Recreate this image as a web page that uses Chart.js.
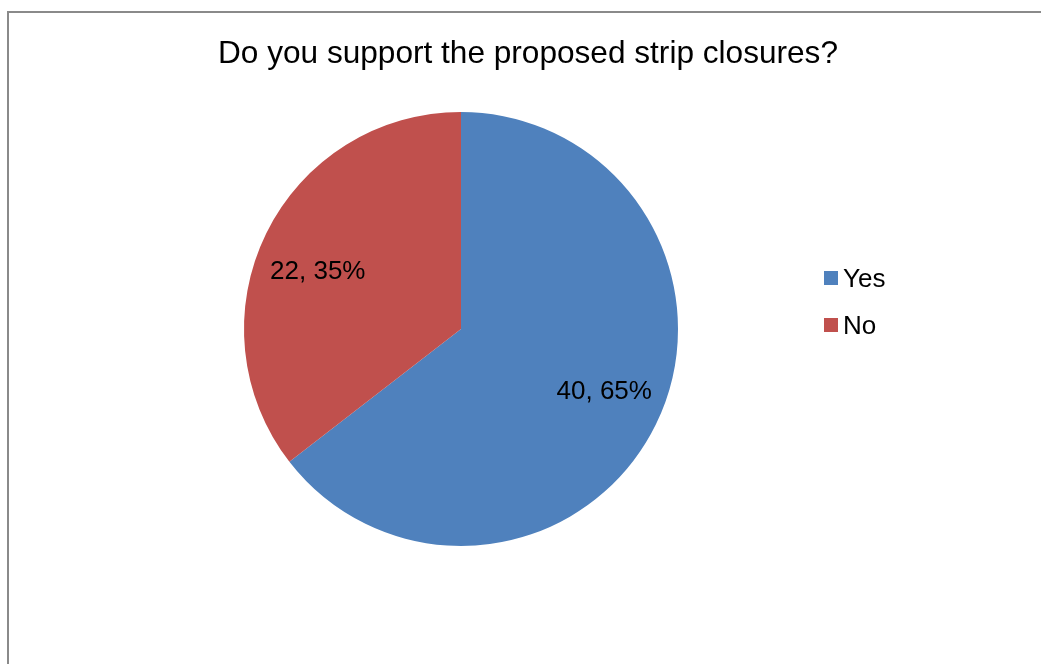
<!DOCTYPE html>
<html>
<head>
<meta charset="utf-8">
<script src="https://cdn.jsdelivr.net/npm/chart.js@4.4.1/dist/chart.umd.min.js"></script>
<style>
  html, body { margin: 0; padding: 0; background: #fff; }
  #wrap { position: relative; width: 1041px; height: 664px; }
</style>
</head>
<body>
<div id="wrap"><canvas id="pieChart" width="1041" height="664"></canvas></div>
<script>
const chartTitle = 'Do you support the proposed strip closures?';
const answers = ['Yes', 'No'];
const counts = [40, 22];
const sliceColors = ['#4F81BD', '#C0504D'];

const FONT = '"Liberation Sans", Arial, sans-serif';

// frame, title, data labels and legend drawn like the spreadsheet export
const excelDecor = {
  id: 'excelDecor',
  afterDraw(chart) {
    const ctx = chart.ctx;
    ctx.save();

    ctx.strokeStyle = '#8a8a8a';
    ctx.lineWidth = 2;
    ctx.beginPath();
    ctx.moveTo(8, 664);
    ctx.lineTo(8, 12);
    ctx.lineTo(1041, 12);
    ctx.stroke();

    ctx.fillStyle = '#000';
    ctx.font = '31.6px ' + FONT;
    ctx.textAlign = 'center';
    ctx.textBaseline = 'alphabetic';
    ctx.fillText(chartTitle, 528, 63);

    const total = counts.reduce((a, b) => a + b, 0);
    const arcs = chart.getDatasetMeta(0).data;
    ctx.font = '26px ' + FONT;
    arcs.forEach((arc, i) => {
      const p = arc.getProps(['x', 'y', 'startAngle', 'endAngle', 'outerRadius'], true);
      // best-fit labels sit a little toward the horizontal
      const mid = (p.startAngle + p.endAngle) / 2 - 3.5 * Math.PI / 180;
      const r = p.outerRadius * 0.715;
      const pct = Math.round(counts[i] / total * 100);
      ctx.fillText(`${counts[i]}, ${pct}%`, p.x + Math.cos(mid) * r, p.y + Math.sin(mid) * r + 10);
    });

    ctx.textAlign = 'left';
    answers.forEach((name, i) => {
      const y = 271 + i * 47;
      ctx.fillStyle = sliceColors[i];
      ctx.fillRect(824, y, 14, 14);
      ctx.fillStyle = '#000';
      ctx.fillText(name, 843, y + 16);
    });

    ctx.restore();
  }
};

new Chart(document.getElementById('pieChart'), {
  type: 'pie',
  data: {
    labels: answers,
    datasets: [{
      data: counts,
      backgroundColor: sliceColors,
      borderWidth: 0
    }]
  },
  options: {
    responsive: false,
    animation: false,
    layout: { padding: { left: 244, right: 363, top: 112, bottom: 118 } },
    plugins: {
      legend: { display: false },
      title: { display: false },
      tooltip: { enabled: false }
    }
  },
  plugins: [excelDecor]
});
</script>
</body>
</html>
